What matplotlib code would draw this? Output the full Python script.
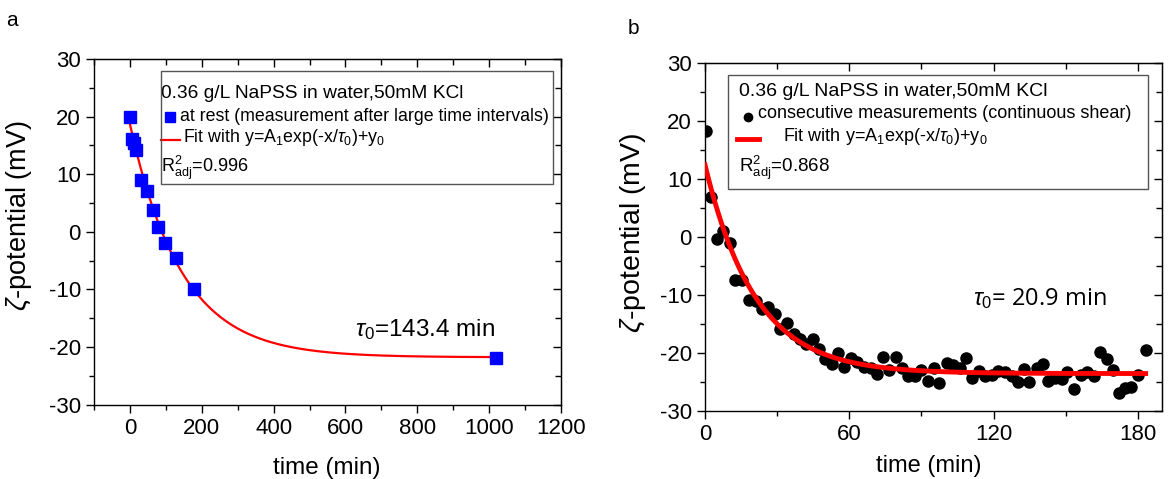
import numpy as np
import matplotlib
matplotlib.use('Agg')
import matplotlib.pyplot as plt
from matplotlib.patches import Rectangle
from matplotlib.ticker import MultipleLocator

plt.rcParams['font.family'] = ['Liberation Sans', 'DejaVu Sans']
plt.rcParams['mathtext.fontset'] = 'custom'
plt.rcParams['mathtext.rm'] = 'Liberation Sans'
plt.rcParams['mathtext.it'] = 'Liberation Sans:italic'
plt.rcParams['mathtext.bf'] = 'Liberation Sans:bold'
plt.rcParams['axes.unicode_minus'] = False

# Painel a: medidas em repouso
t_rest = [0, 5, 11, 18, 32, 48, 63, 79, 97, 128, 179, 1020]
zeta_rest = [20.0, 16.1, 15.4, 14.2, 9.0, 7.1, 3.8, 0.8, -1.9, -4.5, -9.9, -21.9]
fit_a = dict(A1=40.5, tau=143.4, y0=-21.8, tmax=1020)

# Painel b: medidas consecutivas (cisalhamento continuo)
t_shear = [0.3, 2.4, 4.9, 7.6, 10.4, 12.5, 15.5, 18.4, 21.0, 23.6, 26.3, 29.1,
           31.2, 34.2, 37.1, 39.5, 42.0, 44.8, 47.4, 49.9, 52.7, 55.1, 57.8,
           60.5, 63.3, 66.1, 68.9, 71.4, 73.9, 76.6, 79.3, 81.8, 84.5, 87.3,
           89.6, 92.6, 95.3, 97.4, 100.5, 103.2, 106.0, 108.5, 111.1, 113.9,
           116.4, 119.2, 121.9, 124.7, 127.5, 130.0, 132.8, 134.8, 137.9,
           140.4, 142.7, 145.5, 148.3, 150.7, 153.5, 156.2, 158.9, 161.7,
           164.2, 167.0, 169.5, 172.1, 174.6, 177.3, 180.1, 183.2]
zeta_shear = [18.2, 6.9, -0.4, 1.0, -1.0, -7.5, -7.4, -10.9, -11.1, -12.5, -12.1,
              -13.3, -16.0, -14.8, -16.8, -17.7, -18.5, -17.6, -19.4, -21.1,
              -21.9, -20.1, -22.4, -21.0, -21.6, -22.4, -22.7, -23.6, -20.7,
              -23.0, -20.8, -22.7, -24.1, -24.1, -23.0, -24.8, -22.6, -25.3,
              -21.7, -22.1, -22.6, -20.9, -24.4, -23.1, -24.0, -23.8, -23.1,
              -23.4, -24.0, -25.0, -22.8, -25.0, -22.6, -22.0, -24.9, -24.4,
              -24.6, -23.4, -26.3, -23.8, -23.4, -24.1, -19.8, -21.1, -23.0,
              -26.9, -26.1, -26.0, -23.8, -19.5]
fit_b = dict(A1=36.0, tau=20.9, y0=-23.6, tmax=183.2)


def fit_curve(p):
    t = np.linspace(0, p['tmax'], 400)
    return t, p['A1'] * np.exp(-t / p['tau']) + p['y0']


def style_axes(ax, xmaj, xmin):
    ax.xaxis.set_major_locator(MultipleLocator(xmaj))
    ax.xaxis.set_minor_locator(MultipleLocator(xmin))
    ax.yaxis.set_major_locator(MultipleLocator(10))
    ax.yaxis.set_minor_locator(MultipleLocator(5))
    ax.tick_params(which='major', direction='out', length=6, width=1, labelsize=16,
                   top=False, right=False)
    ax.tick_params(which='minor', direction='out', length=3.5, width=1,
                   top=False, right=False)
    for s in ax.spines.values():
        s.set_linewidth(1.0)
    # ticks internos em cima e a direita
    top = ax.secondary_xaxis('top')
    top.xaxis.set_major_locator(MultipleLocator(xmaj))
    top.xaxis.set_minor_locator(MultipleLocator(xmin))
    top.tick_params(which='both', direction='in', labeltop=False, width=1)
    top.tick_params(which='major', length=6)
    top.tick_params(which='minor', length=4)
    right = ax.secondary_yaxis('right')
    right.yaxis.set_major_locator(MultipleLocator(10))
    right.yaxis.set_minor_locator(MultipleLocator(5))
    right.tick_params(which='both', direction='in', labelright=False, width=1)
    right.tick_params(which='major', length=6)
    right.tick_params(which='minor', length=4)


fig = plt.figure(figsize=(11.74, 4.79), dpi=100)

# ---------------- painel a ----------------
ax1 = fig.add_axes([0.08007, 0.15553, 0.39779, 0.72129])
tf, yf = fit_curve(fit_a)
ax1.plot(tf, yf, '-', color='red', lw=1.6, zorder=2)
ax1.plot(t_rest, zeta_rest, 's', color='#0000ff', markersize=9, zorder=3)
ax1.set_xlim(-100, 1200)
ax1.set_ylim(-30, 30)
style_axes(ax1, 200, 100)
ax1.set_xlabel('time (min)', fontsize=17.5)
ax1.xaxis.set_label_coords(0.499, -0.152)
ax1.set_ylabel(r'$\zeta$-potential (mV)', fontsize=19.5)
ax1.yaxis.set_label_coords(-0.128, 0.548)
ax1.text(627, -17, r'$\tau_0$=143.4 min', fontsize=17.5, va='center', ha='left')

# caixa de legenda
ax1.add_patch(Rectangle((0.1428, 0.6382), 0.8401, 0.3271, transform=ax1.transAxes,
                        fill=False, edgecolor='#555555', lw=1.0, zorder=4))
ax1.text(0.1445, 0.9016, '0.36 g/L NaPSS in water,50mM KCl', transform=ax1.transAxes,
         fontsize=13.8, va='center', ha='left')
ax1.plot([0.1627], [0.833], 's', color='#0000ff', markersize=6.5,
         transform=ax1.transAxes, clip_on=False)
ax1.text(0.1842, 0.833, 'at rest (measurement after large time intervals)',
         transform=ax1.transAxes, fontsize=12.8, va='center', ha='left')
ax1.plot([0.1435, 0.1842], [0.766, 0.766], '-', color='red', lw=1.6,
         transform=ax1.transAxes, clip_on=False)
ax1.text(0.19, 0.772, r'Fit with y=A$_1$exp(-x/$\tau_0$)+y$_0$',
         transform=ax1.transAxes, fontsize=12.8, va='center', ha='left')
ax1.text(0.1445, 0.6845, r'R$^2_{\mathrm{adj}}$=0.996', transform=ax1.transAxes,
         fontsize=13, va='center', ha='left')

# ---------------- painel b ----------------
ax2 = fig.add_axes([0.60051, 0.14259, 0.38927, 0.72651])
tf, yf = fit_curve(fit_b)
ax2.plot(t_shear, zeta_shear, 'o', color='black', markersize=8, zorder=2)
ax2.plot(tf, yf, '-', color='red', lw=3.5, zorder=3)
ax2.set_xlim(0, 190)
ax2.set_ylim(-30, 30)
style_axes(ax2, 60, 30)
ax2.set_xlabel('time (min)', fontsize=17)
ax2.xaxis.set_label_coords(0.49, -0.128)
ax2.set_ylabel(r'$\zeta$-potential (mV)', fontsize=20.5)
ax2.yaxis.set_label_coords(-0.125, 0.51)
ax2.text(111.4, -10.6, r'$\tau_0$= 20.9 min', fontsize=17, va='center', ha='left',
         family=['Open Sans', 'DejaVu Sans'])

ax2.add_patch(Rectangle((0.051, 0.6362), 0.9184, 0.3285, transform=ax2.transAxes,
                        fill=False, edgecolor='#555555', lw=1.0, zorder=4))
ax2.text(0.0751, 0.9167, '0.36 g/L NaPSS in water,50mM KCl', transform=ax2.transAxes,
         fontsize=14, va='center', ha='left')
ax2.plot([0.0947], [0.845], 'o', color='black', markersize=6,
         transform=ax2.transAxes, clip_on=False)
ax2.text(0.1166, 0.8526, 'consecutive measurements (continuous shear)',
         transform=ax2.transAxes, fontsize=13, va='center', ha='left')
ax2.plot([0.0694, 0.1188], [0.781, 0.781], '-', color='red', lw=3.5,
         transform=ax2.transAxes, clip_on=False)
ax2.text(0.17, 0.7874, r'Fit with y=A$_1$exp(-x/$\tau_0$)+y$_0$',
         transform=ax2.transAxes, fontsize=13, va='center', ha='left')
ax2.text(0.0751, 0.6966, r'R$^2_{\mathrm{adj}}$=0.868', transform=ax2.transAxes,
         fontsize=13.5, va='center', ha='left')

# letras dos paineis
fig.text(12 / 1174, 1 - 20 / 479, 'a', fontsize=15, va='center', ha='center')
fig.text(633 / 1174, 1 - 28 / 479, 'b', fontsize=15, va='center', ha='center')

plt.savefig('out.png', dpi=100)
